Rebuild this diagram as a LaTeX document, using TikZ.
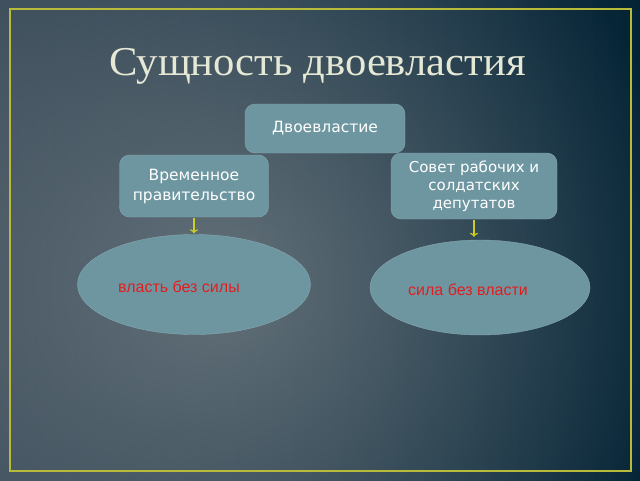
\documentclass[tikz,border=0pt]{standalone}
\usepackage{fontspec}
\setmainfont{DejaVu Sans}
\newfontfamily\titlefont[FakeStretch=1.04]{Liberation Serif}
\newfontfamily\redfont{Liberation Sans}
\usetikzlibrary{shapes.geometric,fadings,arrows.meta}
\definecolor{bgleft}{RGB}{52,70,85}
\definecolor{bgmiddle}{RGB}{34,58,74}
\definecolor{bgright}{RGB}{4,36,54}
\definecolor{bgglow}{RGB}{125,135,140}
\definecolor{frameyellow}{RGB}{184,186,58}
\definecolor{boxfill}{RGB}{110,150,161}
\definecolor{boxline}{RGB}{135,168,176}
\definecolor{titlegrey}{RGB}{230,232,214}
\definecolor{arrowyellow}{RGB}{205,205,35}
\definecolor{labelred}{RGB}{225,30,30}
\tikzfading[name=glow, inner color=transparent!30, outer color=transparent!100]
\begin{document}
\begin{tikzpicture}[x=1pt,y=-1pt,
    box/.style={draw=boxline,fill=boxfill,rounded corners=10pt,text=white,align=center,inner sep=0pt},
    oval/.style={draw=boxline,fill=boxfill,ellipse,inner sep=0pt},
    redlabel/.style={text=labelred,font=\redfont\fontsize{16}{19}\selectfont},
    arr/.style={draw=arrowyellow,line width=1.3pt,-{To[length=4pt,width=8pt]}}]
        \useasboundingbox (0,0) rectangle (640,480);
        %% Background
        \shade[left color=bgleft,middle color=bgmiddle,right color=bgright] (0,0) rectangle (640,480);
        \fill[bgglow,path fading=glow] (225,285) circle (470);
        %% Frame
        \draw[frameyellow,line width=2pt] (10,9) rectangle (631,471);
        %% Title
        \node[font=\titlefont\fontsize{41}{48}\selectfont,text=titlegrey,anchor=base] (title) at (317.5,75) {Сущность двоевластия};
        %% Boxes
        \node[box,minimum width=160pt,minimum height=49pt,font=\fontsize{15.5}{19}\selectfont] (dvoe) at (325,128.5) {Двоевластие};
        \node[box,minimum width=149pt,minimum height=62pt,font=\fontsize{15.5}{20}\selectfont] (vrem) at (194,186) {Временное\\правительство};
        \node[box,minimum width=166pt,minimum height=66pt,font=\fontsize{15}{18}\selectfont] (sovet) at (474,186) {Совет рабочих и\\солдатских\\депутатов};
        %% Ellipses
        \node[oval,minimum width=233pt,minimum height=100pt] (vlast) at (194,284.5) {};
        \node[oval,minimum width=220pt,minimum height=95pt] (sila) at (480,287.5) {};
        \node[redlabel] (vlasttext) at (179,287) {власть без силы};
        \node[redlabel] (silatext) at (468,290) {сила без власти};
        %% Arrows
        \draw[arr,shorten <=1pt,shorten >=1pt] (vrem.south) -- (vrem.south |- vlast.north);
        \draw[arr,shorten <=1pt,shorten >=3pt] (sovet.south) -- (sovet.south |- sila.north);
    \end{tikzpicture}
\end{document}
